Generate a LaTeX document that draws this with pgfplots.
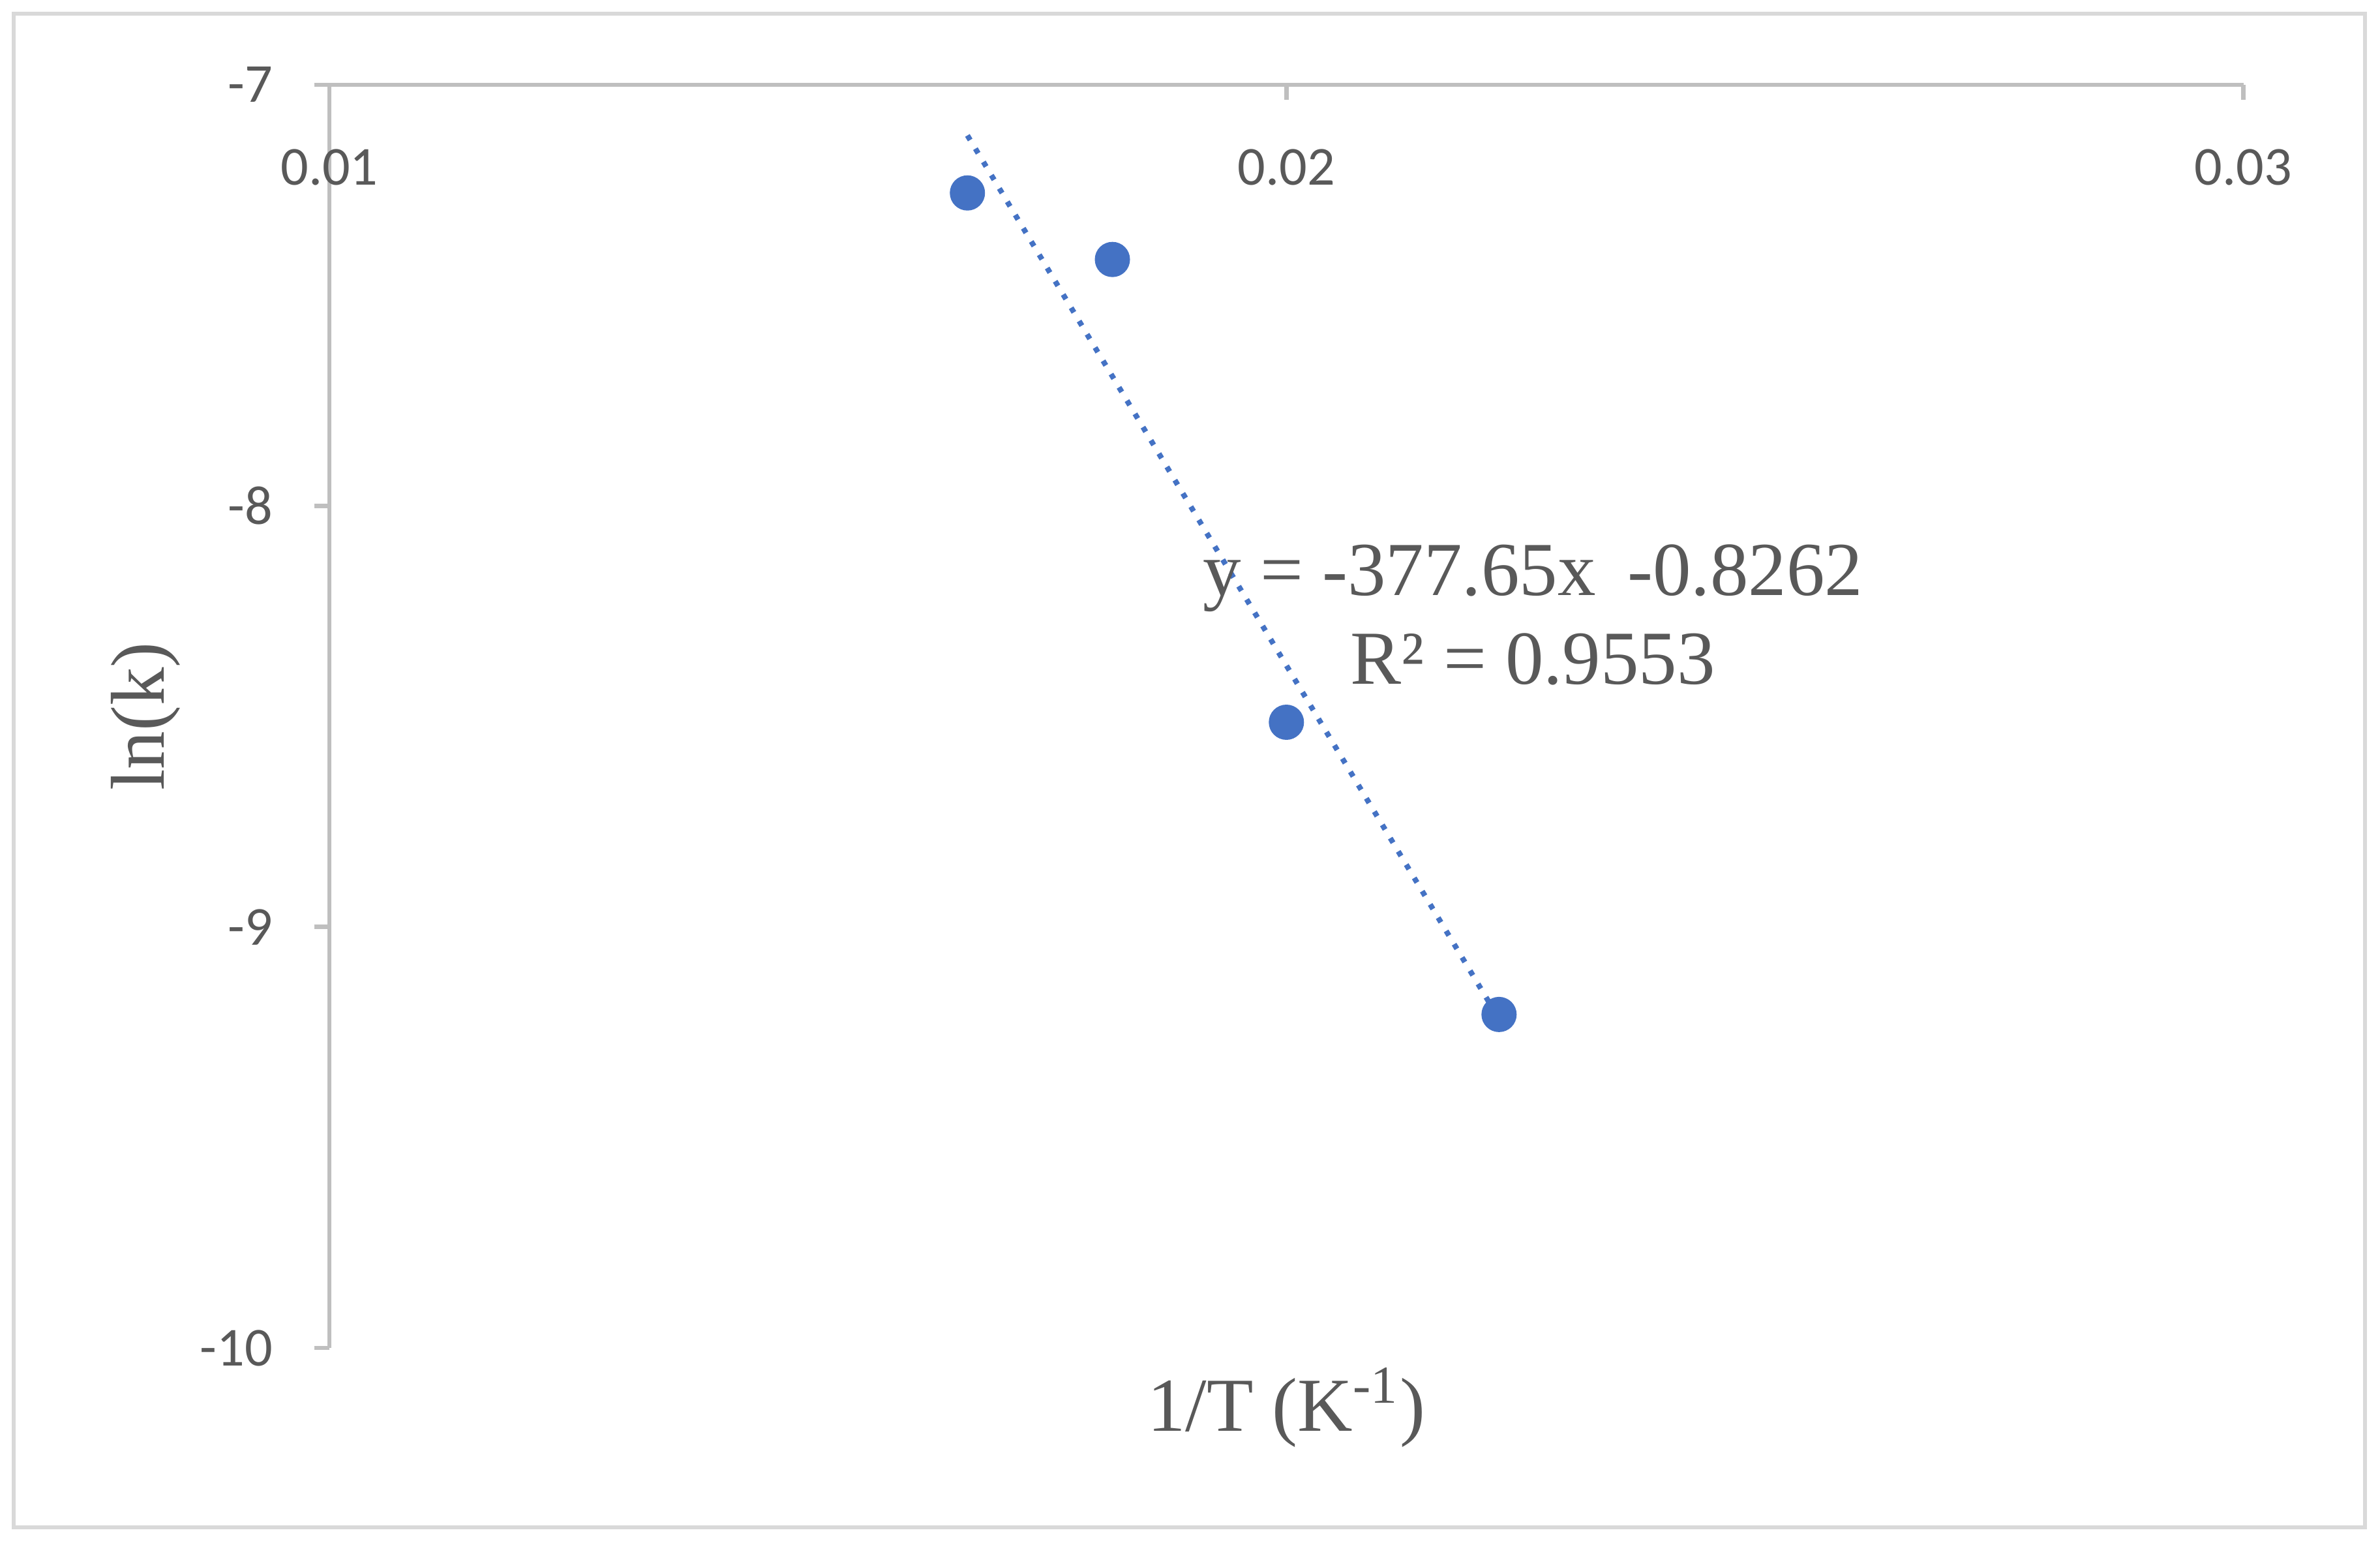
\documentclass[border=0pt]{standalone}
\usepackage{pgfplots}
\pgfplotsset{compat=1.18}
\usepackage{fontspec}
\setmainfont{Liberation Serif}
\newfontfamily\tickfont{Carlito}
\definecolor{excelblue}{HTML}{4472C4}
\definecolor{axisgray}{HTML}{BFBFBF}
\definecolor{framegray}{HTML}{D9D9D9}
\definecolor{labelgray}{HTML}{595959}

\begin{document}
\begin{tikzpicture}
  \useasboundingbox (-2.17,-1.282) rectangle (13.51,8.878);
  \draw[framegray, line width=0.8pt] (-2.08,-1.182) rectangle (13.41,8.788);
  \begin{axis}[
    at={(0,0)}, anchor=south west,
    scale only axis,
    width=12.61cm, height=8.32cm,
    xmin=0.01, xmax=0.03,
    ymin=-10, ymax=-7,
    axis x line*=top,
    axis y line*=left,
    axis line style={-, draw=axisgray, line width=0.8pt},
    xtick={0.01,0.02,0.03},
    xticklabels={0.01,0.02,0.03},
    scaled x ticks=false,
    ytick={-10,-9,-8,-7},
    yticklabels={-10,-9,-8,-7},
    minor tick num=0,
    major tick length=1mm,
    xtick align=inside,
    ytick align=outside,
    tick style={draw=axisgray, line width=0.8pt},
    ticklabel style={font=\tickfont\fontsize{10.3}{12}\selectfont, text=labelgray},
    xticklabel style={anchor=north, yshift=-3mm},
    yticklabel style={anchor=east, xshift=-1.5mm},
    xlabel={1/T (K\textsuperscript{-1})},
    ylabel={ln(k)},
    label style={font=\fontsize{14.3}{17}\selectfont, text=labelgray},
    xlabel style={at={(axis description cs:0.5,-0.047)}, anchor=center},
    ylabel style={at={(axis description cs:-0.096,0.5)}, anchor=center},
    clip=false,
  ]

  % trendline (Excel linear fit)
  \addplot[excelblue, line width=1pt, dash pattern=on 1pt off 1.9pt]
    coordinates {(0.016667,-7.1204) (0.022222,-9.2184)};

  % data points
  \addplot[only marks, mark=*, mark size=3.1pt,
    mark options={fill=excelblue, draw=excelblue}]
    coordinates {
      (0.016667,-7.257)
      (0.018182,-7.415)
      (0.020000,-8.514)
      (0.022222,-9.208)
    };

  \node[align=center, font=\fontsize{14.3}{16.6}\selectfont, text=labelgray]
    at (axis cs:0.022577,-8.2596)
    {y = -377.65x \,-0.8262\\R² = 0.9553};

  \end{axis}
\end{tikzpicture}
\end{document}
